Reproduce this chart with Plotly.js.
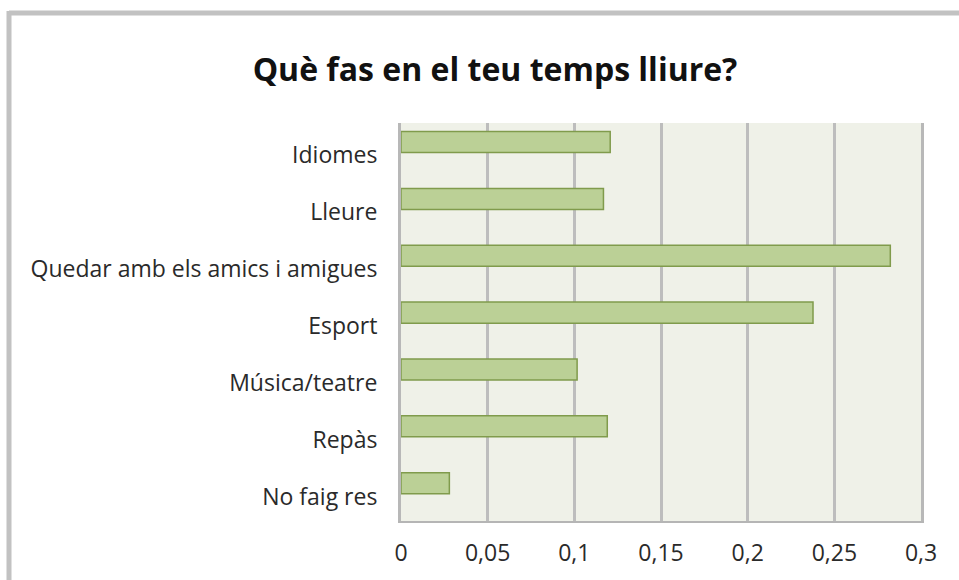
<!DOCTYPE html>
<html><head><meta charset="utf-8">
<script src="https://cdn.plot.ly/plotly-3.0.1.min.js"></script>
<style>html,body{margin:0;padding:0;background:#fff;}#chart{width:959px;height:580px;}</style>
</head><body><div id="chart"></div>
<script>
const categories = ["Idiomes", "Lleure", "Quedar amb els amics i amigues", "Esport", "Música/teatre", "Repàs", "No faig res"];
const values = [0.1207, 0.1168, 0.2823, 0.2377, 0.1016, 0.119, 0.0279];
const tickVals = [0, 0.05, 0.1, 0.15, 0.2, 0.25, 0.3];
const tickText = ["0", "0,05", "0,1", "0,15", "0,2", "0,25", "0,3"];

const L = 401, R = 959 - 921, T = 123, B = 580 - 521;
const pw = 959 - L - R, ph = 580 - T - B;
function px(x){ return (x - L) / pw; }
function py(y){ return (580 - B - y) / ph; }

const trace = {
  type: 'bar', orientation: 'h',
  y: categories, x: values,
  width: 0.37, offset: -0.35,
  marker: {color: '#bbd096', line: {color: '#809b4c', width: 1.5}},
  hoverinfo: 'x+y'
};
const layout = {
  width: 959, height: 580,
  margin: {l: L, r: R, t: T, b: B},
  paper_bgcolor: '#ffffff', plot_bgcolor: '#eff1e8',
  font: {family: '"Open Sans", sans-serif', size: 23, color: '#2a2a2a'},
  title: {text: '<b>Què fas en el teu temps lliure?</b>', x: 495/959, xref: 'container', xanchor: 'center', y: 1 - 70/580, yanchor: 'middle',
          font: {family: '"Open Sans", sans-serif', size: 32, color: '#111'}},
  xaxis: {range: [0, 0.3], tickvals: tickVals, ticktext: tickText, showgrid: true, gridcolor: '#bdbdbd', gridwidth: 3,
          zeroline: false, showline: true, linecolor: '#b5b5b5', linewidth: 2, ticks: '', ticklen: 0, ticklabelstandoff: 10,
          fixedrange: true, tickfont: {size: 23, color: '#2a2a2a'}},
  yaxis: {type: 'category', autorange: 'reversed', showgrid: false, zeroline: false, showline: true, mirror: true, linecolor: '#b8b8b8', linewidth: 3,
          ticks: '', ticklen: 0, ticklabelstandoff: 16, ticklabelshift: -4, fixedrange: true, tickfont: {size: 23, color: '#2a2a2a'}},
  showlegend: false,
  shapes: [
    {type: 'line', xref: 'paper', yref: 'paper', x0: px(9), x1: px(959), y0: py(13), y1: py(13), line: {color: '#c2c2c2', width: 5}},
    {type: 'line', xref: 'paper', yref: 'paper', x0: px(9), x1: px(9), y0: py(11), y1: py(580), line: {color: '#c2c2c2', width: 5}}
  ]
};
Plotly.newPlot('chart', [trace], layout, {displayModeBar: false, staticPlot: true});
</script></body></html>
